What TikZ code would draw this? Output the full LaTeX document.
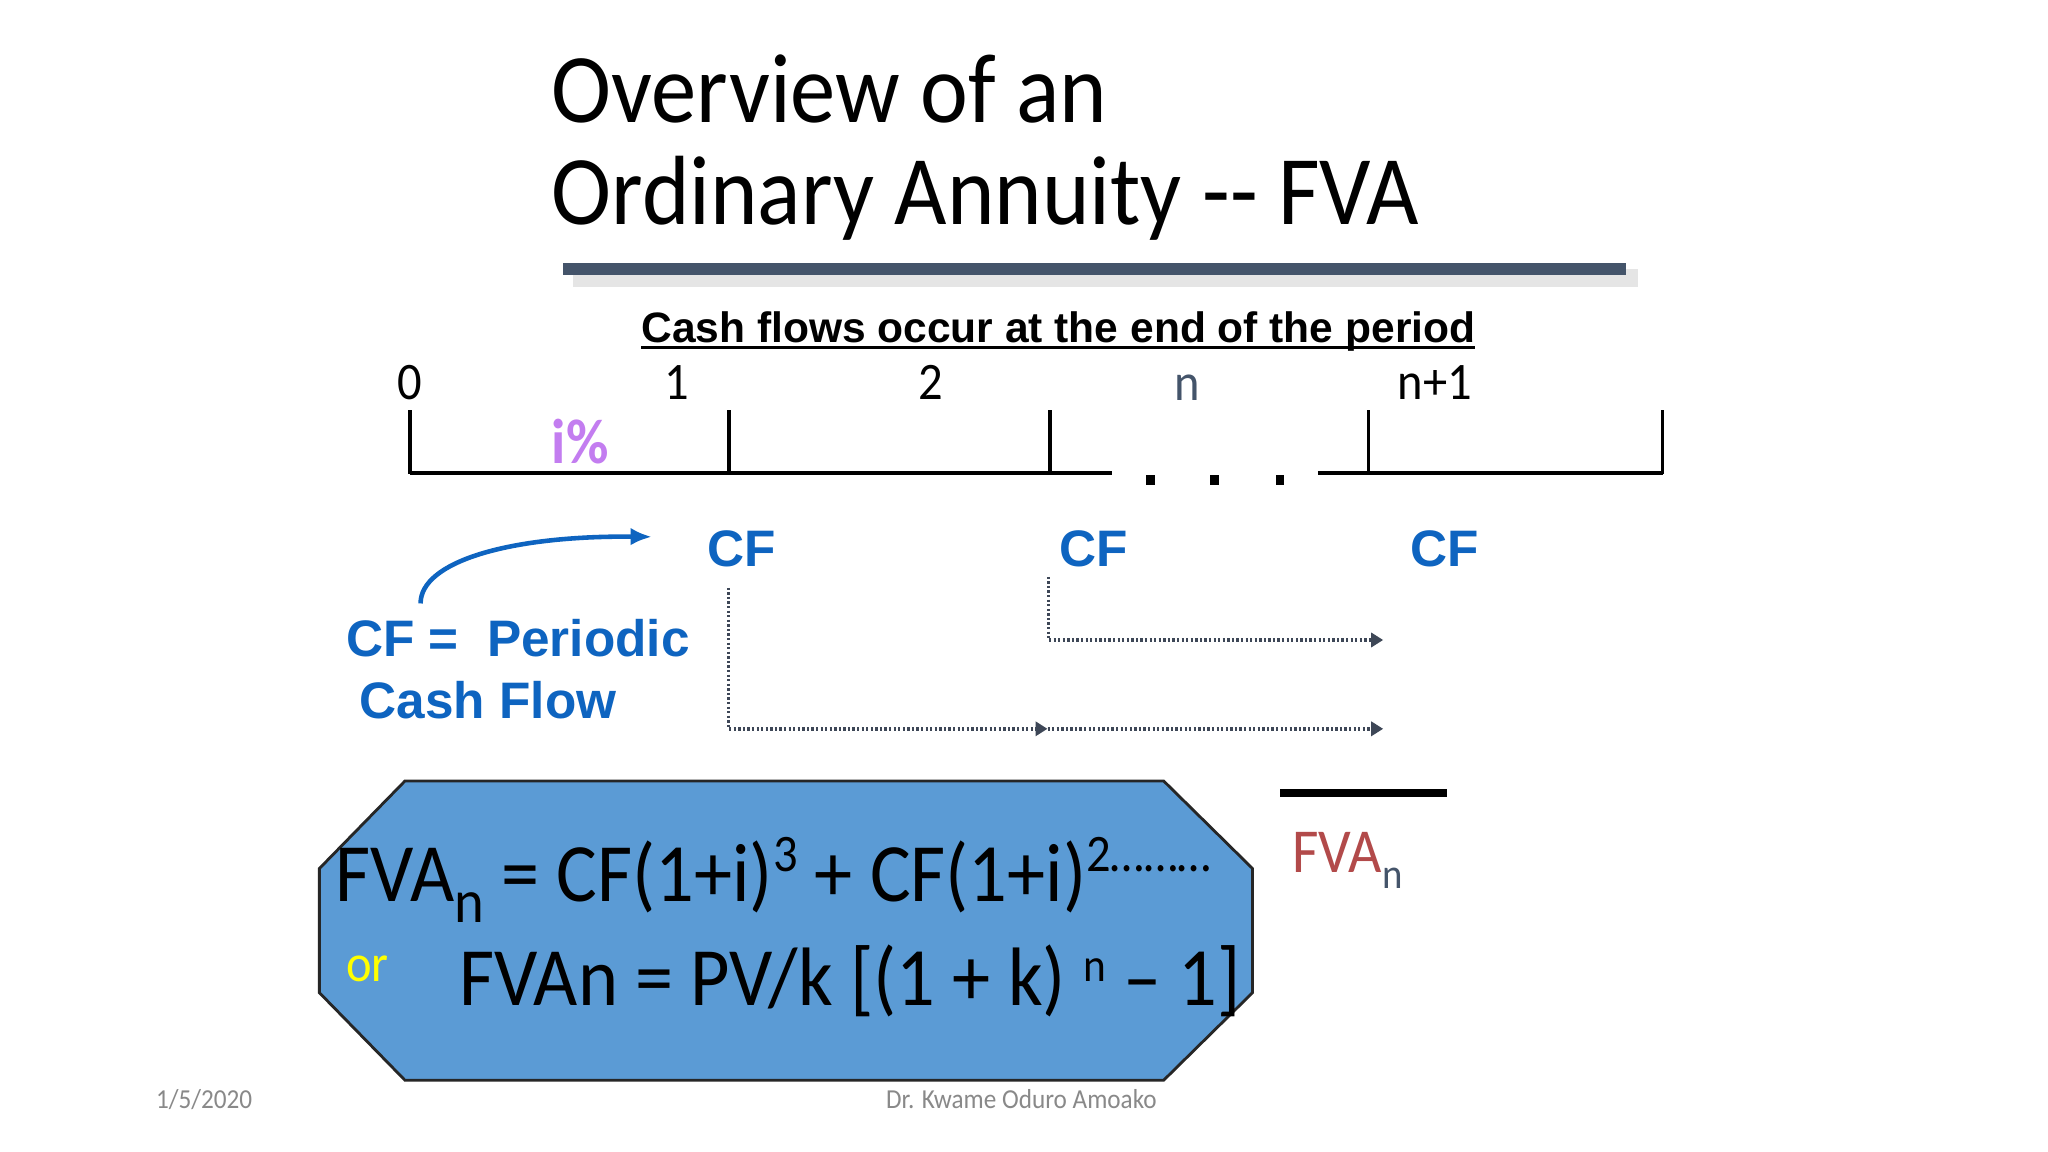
\documentclass[tikz,border=0pt]{standalone}
\usepackage{fontspec}
\setmainfont{Carlito}[FakeStretch=0.92]
\newfontfamily\arialf{Liberation Sans}
\usetikzlibrary{arrows.meta}
\definecolor{cfblue}{RGB}{14,100,192}
\definecolor{slate}{RGB}{68,84,106}
\definecolor{ipurple}{RGB}{195,125,240}
\definecolor{dotgray}{RGB}{62,71,87}
\definecolor{boxblue}{RGB}{91,155,213}
\definecolor{fvared}{RGB}{178,74,74}
\definecolor{footgray}{RGB}{137,137,137}
\definecolor{oryellow}{RGB}{255,255,0}
\tikzset{
  titletext/.style={font=\fontsize{28}{30}\selectfont, text=black},
  cashtext/.style={font=\arialf\bfseries\fontsize{12.1}{14}\selectfont, text=black},
  ticklabel/.style={font=\fontsize{15}{16}\selectfont, text=black, anchor=base},
  cflabel/.style={font=\arialf\bfseries\fontsize{14.6}{16}\selectfont, text=cfblue},
  boxtext/.style={font=\fontsize{23.6}{25}\selectfont, text=black, anchor=base west},
  foottext/.style={font=\fontsize{7.8}{9}\selectfont, text=footgray, anchor=base west},
  tickline/.style={line width=1pt, black},
  axisline/.style={line width=1.2pt, black},
  dotline/.style={dotgray, line width=1pt, dash pattern=on 0.65pt off 0.65pt},
  dottip/.style={-{Triangle[length=3.4pt,width=4pt]}},
}
\begin{document}
\begin{tikzpicture}[x=0.01306cm,y=-0.01306cm, every node/.style={inner sep=0pt,outer sep=0pt}]
\useasboundingbox (0,0) rectangle (1568,882);
\fill[white] (0,0) rectangle (1568,882);

% title
\node[titletext, anchor=base west] (t1) at (422.5,94) {Overview of an};
\node[titletext, anchor=base west] (t2) at (422.5,172) {Ordinary Annuity -{}- FVA};
\fill[black!10] (439,206) rectangle (1254,219.5);
\fill[slate] (431,201) rectangle (1245,210.6);

% cash flows heading
\node[cashtext, anchor=base west] (cash) at (491,262) {Cash flows occur at the end of the period};
\draw[line width=0.8pt] ([yshift=-1.6pt]cash.base west) -- ([yshift=-1.6pt]cash.base east);

% tick labels
\node[ticklabel] (l0) at (314,306) {0};
\node[ticklabel] (l1) at (518,306) {1};
\node[ticklabel] (l2) at (713,306) {2};
\node[ticklabel, text=slate] (ln) at (909,307) {n};
\node[ticklabel] (ln1) at (1098.5,306) {n+1};

% timeline
\draw[axisline] (314,362) -- (851.5,362);
\draw[axisline] (1009,362) -- (1273,362);
\foreach \tx in {314,558,804,1047.6,1273}{
  \draw[tickline] (\tx,314) -- (\tx,362.6);
}
\foreach \dx in {881,930,980}{
  \fill[black] (\dx-3.3,364) rectangle (\dx+3.3,371.5);
}
\node[font=\bfseries\fontsize{18}{20}\selectfont, text=ipurple, anchor=base west] (ipct) at (422.5,354.5) {i\%};

% CF labels
\node[cflabel, anchor=base] (cf1) at (567.5,434) {CF};
\node[cflabel, anchor=base] (cf2) at (837,434) {CF};
\node[cflabel, anchor=base] (cf3) at (1106,434) {CF};

% CF = Periodic Cash Flow
\node[cflabel, anchor=base west] (per1) at (265,502.8) {CF =\ \ Periodic};
\node[cflabel, anchor=base west] (per2) at (275.5,550) {Cash Flow};
\coordinate (cstart) at (322,462);
\coordinate (cend) at (499,411);
\draw[cfblue, line width=1.3pt, -{Latex[length=6pt,width=5pt]}] (cstart) .. controls (322,430) and (390,410) .. (cend);

% dotted arrows
\coordinate (d1top) at (557.8,450);
\coordinate (d1corner) at (557.8,558);
\coordinate (d1mid) at (802,558);
\coordinate (d1end) at (1059,558);
\coordinate (d2top) at (802.6,441.6);
\coordinate (d2corner) at (802.6,490);
\coordinate (d2end) at (1059,490);
\draw[dotline, dottip] (d1top) -- (d1corner) -- (d1mid);
\draw[dotline, dottip] (d1mid) -- (d1end);
\draw[dotline, dottip] (d2top) -- (d2corner) -- (d2end);

% FVA result
\fill[black] (980,604) rectangle (1108,610);
\node[font=\fontsize{17.8}{19}\selectfont, text=fvared, anchor=base west] (fvan) at (989.5,668)
  {FVA\raisebox{-4.6pt}{\fontsize{12}{13}\selectfont\color{slate}n}};

% formula box
\draw[fill=boxblue, draw=black!85, line width=0.8pt]
  (310,598) -- (891,598) -- (959,665) -- (959,760) -- (891,827) -- (310,827) -- (244.5,760) -- (244.5,665) -- cycle;
\node[boxtext] (f1) at (257,690.4)
  {FVA\raisebox{-5.9pt}{\fontsize{17.5}{18}\selectfont n}\ = CF(1+i)\raisebox{8.6pt}{\fontsize{15}{16}\selectfont 3}\ + CF(1+i)\raisebox{8.6pt}{\fontsize{15}{16}\selectfont 2………}};
\node[font=\fontsize{15}{16}\selectfont, text=oryellow, anchor=base west] (or) at (265,751.7) {or};
\node[boxtext] (f2) at (351.5,769.5)
  {FVAn = PV/k [(1 + k) \raisebox{6.8pt}{\fontsize{13.4}{14}\selectfont n} – 1]};

% footer
\node[foottext] (date) at (119.5,848.6) {1/5/2020};
\node[foottext] (author) at (678.5,848.6) {Dr. Kwame Oduro Amoako};
\end{tikzpicture}
\end{document}
